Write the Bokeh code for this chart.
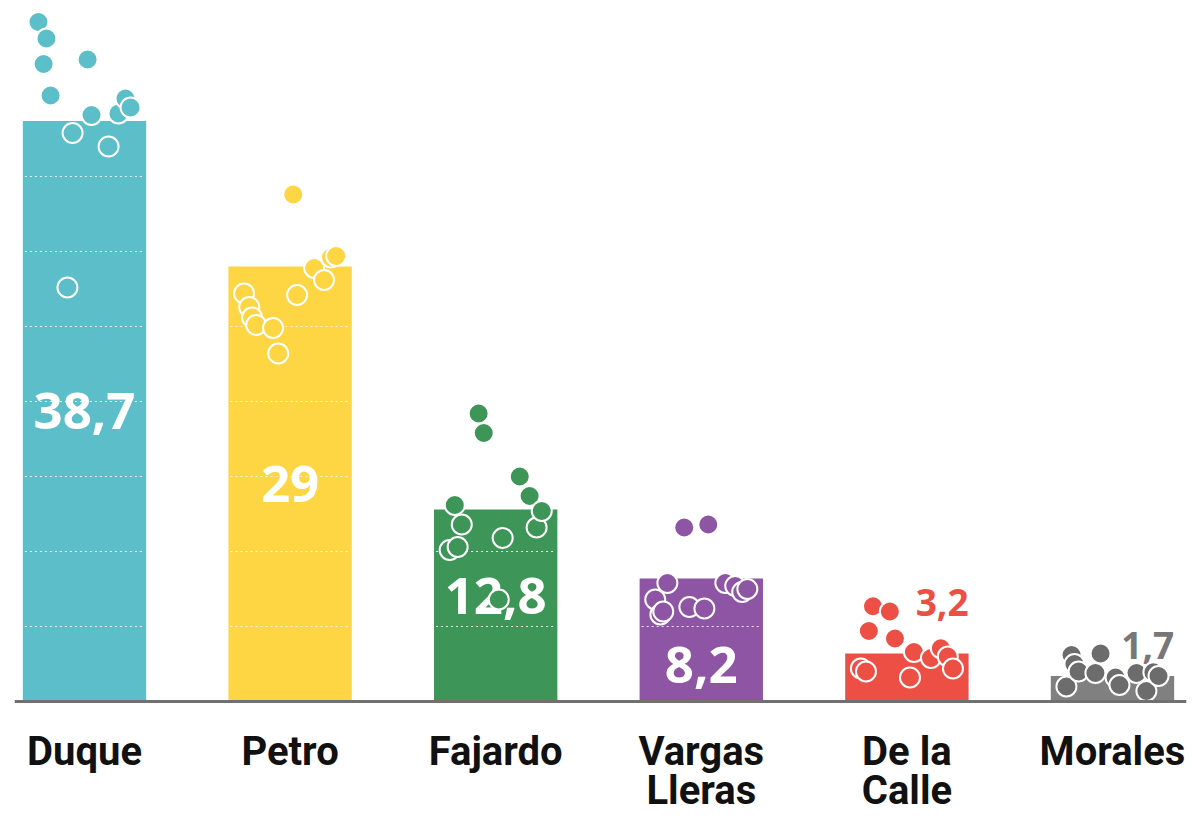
from bokeh.plotting import figure
from bokeh.models import Span
from bokeh.core.properties import value
from bokeh.embed import file_html
from bokeh.resources import INLINE

# ---------------- data ----------------
candidates = ["Duque", "Petro", "Fajardo", "Vargas Lleras", "De la Calle", "Morales"]
name_line1 = ["Duque", "Petro", "Fajardo", "Vargas", "De la", "Morales"]
name_line2 = ["", "", "", "Lleras", "Calle", ""]
results = [38.7, 29.0, 12.8, 8.2, 3.2, 1.7]
result_labels = ["38,7", "29", "12,8", "8,2", "3,2", "1,7"]

# horizontal jitter of each poll (same for every candidate)
poll_jitter = [-0.224, -0.199, -0.185, -0.165, -0.083, -0.058, 0.015, 0.034, 0.117, 0.165, 0.199, 0.224]
polls_duque = [45.3, 42.5, 44.2, 40.4, 27.6, 37.9, 42.8, 39.1, 37.0, 39.2, 40.2, 39.6]
polls_petro = [27.2, 26.3, 25.6, 25.1, 24.9, 23.2, 33.8, 27.1, 28.9, 28.1, 29.6, 29.7]
polls_fajardo = [10.1, 13.1, 10.3, 11.8, 19.2, 17.9, 6.8, 10.9, 15.0, 13.7, 11.6, 12.7]
polls_vargas = [6.8, 5.8, 6.0, 7.9, 11.6, 6.3, 6.2, 11.8, 7.9, 7.7, 7.3, 7.5]
polls_delacalle = [2.2, 2.0, 4.7, 6.35, 6.0, 4.2, 1.6, 3.3, 2.9, 3.55, 3.0, 2.2]
polls_morales = [1.0, 3.1, 2.5, 2.0, 1.9, 3.2, 1.6, 1.1, 1.9, 0.7, 1.95, 1.7]
polls = [polls_duque, polls_petro, polls_fajardo, polls_vargas, polls_delacalle, polls_morales]

# ---------------- style ----------------
bar_colors = ["#5bbec8", "#fed543", "#3d9557", "#8e55a4", "#ed4f45", "#808080"]
dot_colors = ["#5bbec8", "#fed543", "#3d9557", "#8e55a4", "#ed4f45", "#6c6c6c"]
outside_label_colors = ["white", "white", "white", "white", "#ed4f45", "#777777"]
BAR_W = 0.6
GRID_STEP = 5
NAME_FONT = "Roboto"
NUM_FONT = "Open Sans"

xs = list(range(len(candidates)))

p = figure(width=1192, height=819, x_range=(-0.3405, 5.36), y_range=(-7.867, 46.2),
           output_backend="svg", toolbar_location=None,
           min_border_left=14, min_border_right=6, min_border_top=8, min_border_bottom=0)
p.axis.visible = False
p.grid.visible = False
p.outline_line_color = None
p.background_fill_color = "white"
p.border_fill_color = "white"

# bars
p.vbar(x=xs, top=results, bottom=0, width=BAR_W, fill_color=bar_colors, line_color=None)

# dotted white grid inside bars
gx0, gx1, gy = [], [], []
for i, v in enumerate(results):
    lev = GRID_STEP
    while lev < v:
        gx0.append(i - BAR_W / 2 + 0.01)
        gx1.append(i + BAR_W / 2 - 0.01)
        gy.append(lev)
        lev += GRID_STEP
p.segment(x0=gx0, x1=gx1, y0=gy, y1=gy, line_color="white", line_alpha=0.85,
          line_width=1.2, line_dash="2 3")

# value labels
in_x, in_y, in_t = [], [], []
out_x, out_y, out_t, out_c = [], [], [], []
for i, v in enumerate(results):
    if v >= GRID_STEP:
        in_x.append(i)
        in_y.append(v / 2 if v > 20 else v - 5.8)
        in_t.append(result_labels[i])
    else:
        out_x.append(i + BAR_W / 2)
        out_y.append(1.9 * v + 0.5)
        out_t.append(result_labels[i])
        out_c.append(outside_label_colors[i])
p.text(x=in_x, y=in_y, text=in_t, text_color="white", text_font=value(NUM_FONT),
       text_font_style="bold", text_font_size="51px", text_align="center", text_baseline="middle")
p.text(x=out_x, y=out_y, text=out_t, text_color=out_c, text_font=value(NUM_FONT),
       text_font_style="bold", text_font_size="37px", text_align="right", text_baseline="middle")

# poll dots
dx, dy, dc = [], [], []
for i, vals in enumerate(polls):
    for j, v in zip(poll_jitter, vals):
        dx.append(i + j)
        dy.append(v)
        dc.append(dot_colors[i])
p.scatter(x=dx, y=dy, size=20, fill_color=dc, line_color="white", line_width=2)

# baseline
p.add_layout(Span(location=0, dimension="width", line_color="#707070", line_width=3))

# candidate names
p.text(x=xs, y=[-3.35] * len(xs), text=name_line1, text_color="#111111",
       text_font=value(NAME_FONT), text_font_style="bold", text_font_size="40px",
       text_align="center", text_baseline="alphabetic")
p.text(x=xs, y=[-5.95] * len(xs), text=name_line2, text_color="#111111",
       text_font=value(NAME_FONT), text_font_style="bold", text_font_size="40px",
       text_align="center", text_baseline="alphabetic")

open("out.html", "w").write(file_html(p, INLINE))
